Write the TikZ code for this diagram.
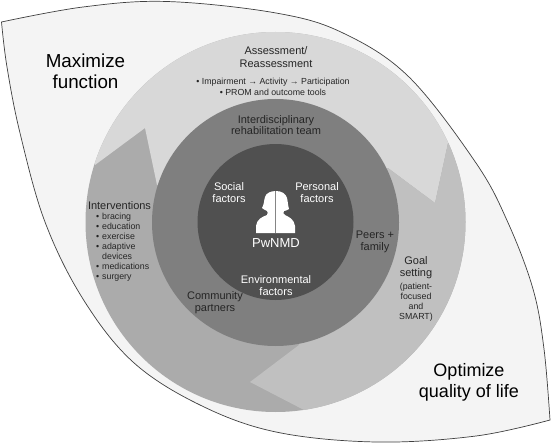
\documentclass[tikz,border=0pt]{standalone}
\usepackage{fontspec}
\setmainfont{Liberation Sans}
\usetikzlibrary{calc}
\definecolor{eyeF}{HTML}{F4F4F4}
\definecolor{assess}{HTML}{D8D8D8}
\definecolor{interv}{HTML}{ABABAB}
\definecolor{goalc}{HTML}{C0C0C0}
\definecolor{midc}{HTML}{7F7F7F}
\definecolor{innerc}{HTML}{505050}
\definecolor{txt}{HTML}{252525}
\tikzset{
  x=1pt,y=-1pt,
  big/.style={font=\fontsize{18}{21}\selectfont,align=center,text=black},
  head/.style={font=\fontsize{11}{11.8}\selectfont,align=center,text=txt},
  wht/.style={font=\fontsize{11}{11.6}\selectfont,align=center,text=white},
  small/.style={font=\fontsize{8.8}{10}\selectfont,text=txt},
}
\begin{document}
\begin{tikzpicture}
\useasboundingbox (0,0) rectangle (552,444);
\fill[white] (0,0) rectangle (552,444);
\draw[fill=eyeF,draw=black!75,line width=.7pt]
 plot[smooth,tension=.6] coordinates {(1.5,22) (83,7) (167,1.5) (276,13) (343,33) (409,77) (476,163) (507.7,222) (533,289) (544,349) (550,420)}
 -- plot[smooth,tension=.6] coordinates {(550,420) (476,436) (376,442) (276,432) (200,405) (133,362) (83,299) (45,222) (20,133) (7,67) (1.5,22)} -- cycle;
\fill[interv] (275.5,222) circle[radius=190];
\begin{scope}
\clip (275.5,222) circle[radius=190];
\fill[assess] (95,165) -- (145,128) -- (157,185) -- (275,222) -- (388,168) -- (435,203) -- (448,143) -- (460,0) -- (60,0) -- cycle;
\fill[goalc] (448,143) -- (435,203) -- (388,168) -- (275,222) -- (299,345) -- (250,382) -- (304,410) -- (320,430) -- (500,300) -- (500,130) -- cycle;
\end{scope}
\fill[midc] (275.5,222.5) circle[radius=123.5];
\fill[innerc] (275.5,222) circle[radius=78];
\fill[white] (256,233) -- (256,226) .. controls (257,219) and (262,217) .. (267,215)
 .. controls (268,213) and (268,212) .. (267,211) .. controls (265,210) and (263,209) .. (262,208)
 .. controls (264,205) and (264,200) .. (265,197) .. controls (266,193) and (271,191) .. (276,191)
 .. controls (282,191) and (286,194) .. (287,198) .. controls (288,202) and (288,206) .. (289,209)
 .. controls (288,210) and (285,211) .. (284,211) .. controls (283,213) and (283,214) .. (285,215)
 .. controls (289,217) and (294,219) .. (295,226) -- (295,233) -- cycle;
\draw[innerc!70!white,line width=.7pt] (275.5,191) -- (275.5,233);
\node[big,font=\fontsize{18.8}{21}\selectfont] (maxf) at (85.5,71) {Maximize\\function};
\node[big] (optq) at (469,382) {Optimize\\quality of life};
\node[head,font=\fontsize{11}{13.6}\selectfont] (assessH) at (276,57) {Assessment/\\Reassessment};
\node[small,align=center,font=\fontsize{8.8}{10.8}\selectfont] (assessL) at (273,86.5) {• Impairment → Activity → Participation\\• PROM and outcome tools};
\node[head] (team) at (276,125) {Interdisciplinary\\rehabilitation team};
\node[wht] (soc) at (229,192.5) {Social\\factors};
\node[wht] (per) at (317,192.5) {Personal\\factors};
\node[font=\fontsize{13}{15}\selectfont,text=white] (pw) at (276,243) {PwNMD};
\node[wht] (env) at (276,285.5) {Environmental\\factors};
\node[head] (peers) at (375,242) {Peers +\\family};
\node[head] (comm) at (215,303) {Community\\partners};
\node[head] (goalH) at (416,268) {Goal\\setting};
\node[font=\fontsize{8.8}{10}\selectfont,align=center,text=txt] (goalL) at (416,302) {(patient-\\focused\\and\\SMART)};
\node[head] (intH) at (119.5,206) {Interventions};
\node[small,align=left,anchor=north west,inner sep=0pt] (intL) at (96,212.5) {•\,\,bracing\\•\,\,education\\•\,\,exercise\\•\,\,adaptive\\\phantom{•\,\,}devices\\•\,\,medications\\•\,\,surgery};
\end{tikzpicture}
\end{document}
